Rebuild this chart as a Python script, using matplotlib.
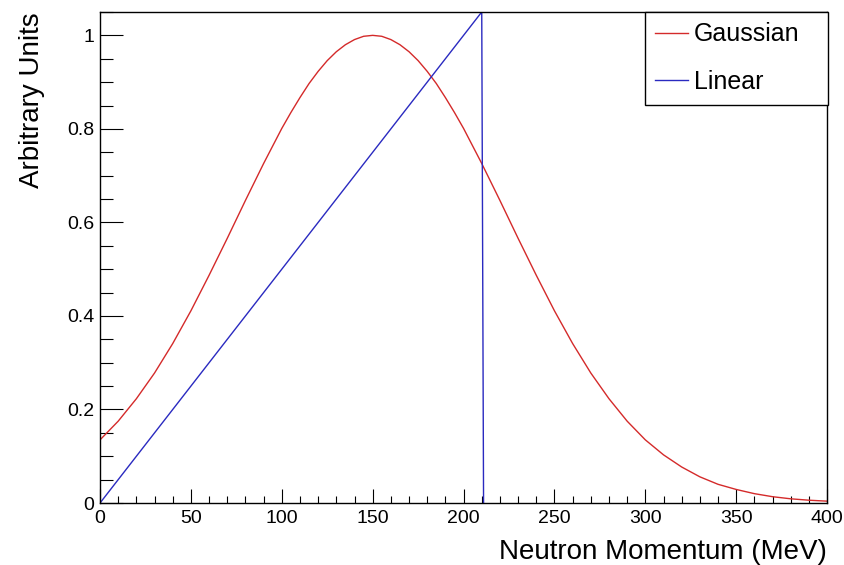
import matplotlib
matplotlib.use("Agg")
import matplotlib.pyplot as plt
from matplotlib.ticker import MultipleLocator, FuncFormatter

# ---- data ----
momentum = [0, 10, 20, 30, 40, 50, 60, 70, 80, 90, 100, 105, 110, 115, 120, 125, 130,
            135, 140, 145, 150, 155, 160, 165, 170, 175, 180, 185, 190, 195, 200,
            210, 220, 230, 240, 250, 260, 270, 280, 290, 300,
            310, 320, 330, 340, 350, 360, 370, 380, 390, 400]
gaussian = [0.135, 0.175, 0.223, 0.278, 0.341, 0.411, 0.487, 0.566, 0.647, 0.726, 0.801,
            0.835, 0.867, 0.897, 0.923, 0.946, 0.965, 0.980, 0.991, 0.998, 1.0, 0.998,
            0.991, 0.980, 0.965, 0.946, 0.923, 0.897, 0.867, 0.835, 0.801, 0.726,
            0.647, 0.566, 0.487, 0.411, 0.341, 0.278, 0.223, 0.175, 0.135, 0.103, 0.077,
            0.056, 0.040, 0.029, 0.020, 0.0135, 0.009, 0.006, 0.004]
linear_x = [0, 210, 211]
linear_y = [0.0, 1.05, 0.0]

plt.rcParams['font.family'] = ['Liberation Sans', 'DejaVu Sans']

fig = plt.figure(figsize=(8.44, 5.65), dpi=100)
ax = fig.add_axes([0.1185, 0.1097, 0.8615, 0.8691])

ax.plot(momentum, gaussian, color='#d42a2a', lw=1.0, label='Gaussian')
ax.plot(linear_x, linear_y, color='#2a2ac0', lw=1.0, label='Linear')

ax.set_xlim(0, 400)
ax.set_ylim(0, 1.05)

ax.xaxis.set_major_locator(MultipleLocator(50))
ax.xaxis.set_minor_locator(MultipleLocator(10))
ax.yaxis.set_major_locator(MultipleLocator(0.2))
ax.yaxis.set_minor_locator(MultipleLocator(0.05))
ax.yaxis.set_major_formatter(FuncFormatter(lambda v, p: f"{v:g}"))

ax.tick_params(axis='both', which='both', direction='in', width=0.8, labelsize=14,
               top=False, right=False)
ax.tick_params(axis='x', which='major', length=10, pad=5)
ax.tick_params(axis='x', which='minor', length=5)
ax.tick_params(axis='y', which='major', length=16.5, pad=4)
ax.tick_params(axis='y', which='minor', length=9)

for s in ax.spines.values():
    s.set_linewidth(1.0)

ax.set_xlabel("Neutron Momentum (MeV)", fontsize=20, loc='right', labelpad=9)
ax.set_ylabel("Arbitrary Units", fontsize=20, loc='top', labelpad=16)

leg = fig.legend(loc='upper left', bbox_to_anchor=(0.764, 0.816, 0.217, 0.163),
                 mode='expand', fontsize=18, frameon=True, fancybox=False,
                 edgecolor='black', framealpha=1, borderaxespad=0,
                 handlelength=1.3, handletextpad=0.25, labelspacing=0.95,
                 borderpad=0.42)
leg.get_frame().set_linewidth(1.0)

fig.savefig("out.png", dpi=100)
